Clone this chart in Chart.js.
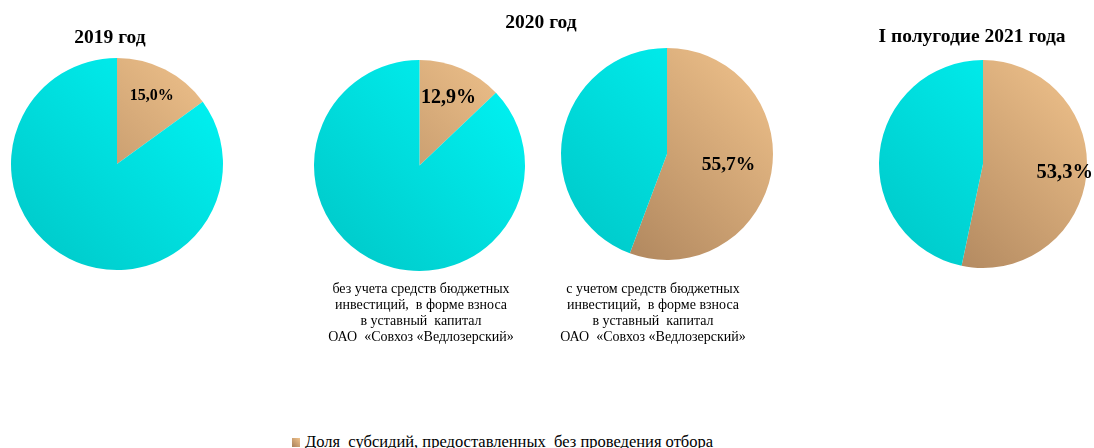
<!DOCTYPE html>
<html>
<head>
<meta charset="utf-8">
<script src="https://cdn.jsdelivr.net/npm/chart.js@4"></script>
<style>
  html, body { margin:0; padding:0; background:#fff; }
  body { width:1094px; height:448px; position:relative; overflow:hidden; font-family:"Liberation Serif","DejaVu Serif",serif; color:#000; }
  .box { position:absolute; }
  .title { position:absolute; font-weight:bold; font-size:19.5px; white-space:nowrap; transform:translate(-50%,-50%); }
  .sub { position:absolute; font-size:14px; line-height:16px; text-align:center; white-space:pre; transform:translateX(-50%); }
  .legend { position:absolute; left:292px; top:432px; font-size:16.5px; white-space:pre; }
  .legend i { display:inline-block; width:8px; height:9px; margin-right:5px; background:linear-gradient(45deg,#a8805a,#f2c48d); vertical-align:0px; }
</style>
</head>
<body>
<script>
// ---- data ----
const periodTitles = ['2019 год', '2020 год', 'I полугодие 2021 года'];
const categories = ['Доля  субсидий, предоставленных  без проведения отбора', 'Прочие субсидии'];
const shareWithoutSelection = [15.0, 12.9, 55.7, 53.3];
const shareOther = [85.0, 87.1, 44.3, 46.7];
const pieCaptions = [
  '',
  'без учета средств бюджетных\nинвестиций,  в форме взноса\nв уставный  капитал\nОАО  «Совхоз «Ведлозерский»',
  'с учетом средств бюджетных\nинвестиций,  в форме взноса\nв уставный  капитал\nОАО  «Совхоз «Ведлозерский»',
  ''
];

// ---- layout (positions / sizes only) ----
const pieCenters = [[117,164],[419.5,165.5],[666.5,154],[983,164]];
const pieRadius = [106,105.5,106,104];
const labelRadiusFrac = [0.72,0.70,0.59,0.79];
const labelFontSize = [16,20,19.5,20.5];
const PAD = 18;

function grad(chart, light, dark){
  const a = chart.chartArea; if(!a) return light;
  const g = chart.ctx.createLinearGradient(a.right, a.top, a.left, a.bottom);
  g.addColorStop(0, light); g.addColorStop(1, dark);
  return g;
}

const labelPlugin = {
  id:'pctLabel',
  afterDatasetsDraw(chart, args, opts){
    const arc = chart.getDatasetMeta(0).data[0];
    const mid = (arc.startAngle + arc.endAngle)/2;
    const r = arc.outerRadius * opts.frac;
    const ctx = chart.ctx;
    ctx.save();
    ctx.font = 'bold ' + opts.size + 'px "Liberation Serif"';
    ctx.fillStyle = '#000';
    ctx.textAlign = 'center'; ctx.textBaseline = 'middle';
    const v = chart.data.datasets[0].data[0];
    ctx.fillText(v.toFixed(1).replace('.', ',') + '%', arc.x + Math.cos(mid)*r, arc.y + Math.sin(mid)*r);
    ctx.restore();
  }
};

shareWithoutSelection.forEach((v, i) => {
  const [cx, cy] = pieCenters[i];
  const r = pieRadius[i];
  const size = 2*r + 2*PAD;
  const div = document.createElement('div');
  div.className = 'box';
  div.style.left = (cx - size/2) + 'px';
  div.style.top = (cy - size/2) + 'px';
  div.style.width = size + 'px';
  div.style.height = size + 'px';
  const cv = document.createElement('canvas');
  cv.width = size; cv.height = size;
  div.appendChild(cv);
  document.body.appendChild(div);
  new Chart(cv, {
    type:'pie',
    data:{ labels: categories, datasets:[{ data:[v, shareOther[i]], borderWidth:0,
      backgroundColor:(c) => c.dataIndex === 0 ? grad(c.chart,'#f2c48d','#a47c56') : grad(c.chart,'#00f6f6','#00c6c6') }] },
    options:{ responsive:false, animation:false, layout:{padding:PAD},
      plugins:{ legend:{display:false}, tooltip:{enabled:false}, pctLabel:{frac:labelRadiusFrac[i], size:labelFontSize[i]} } },
    plugins:[labelPlugin]
  });
  if (pieCaptions[i]) {
    const s = document.createElement('div');
    s.className = 'sub';
    s.style.left = (i === 1 ? 421 : 653) + 'px';
    s.style.top = '281px';
    s.textContent = pieCaptions[i];
    document.body.appendChild(s);
  }
});

const titlePos = [[110,37],[541,22],[972,36]];
periodTitles.forEach((t, i) => {
  const d = document.createElement('div');
  d.className = 'title';
  d.style.left = titlePos[i][0] + 'px';
  d.style.top = titlePos[i][1] + 'px';
  d.textContent = t;
  document.body.appendChild(d);
});

const lg = document.createElement('div');
lg.className = 'legend';
lg.innerHTML = '<i></i>';
lg.appendChild(document.createTextNode(categories[0]));
document.body.appendChild(lg);
</script>
</body>
</html>
